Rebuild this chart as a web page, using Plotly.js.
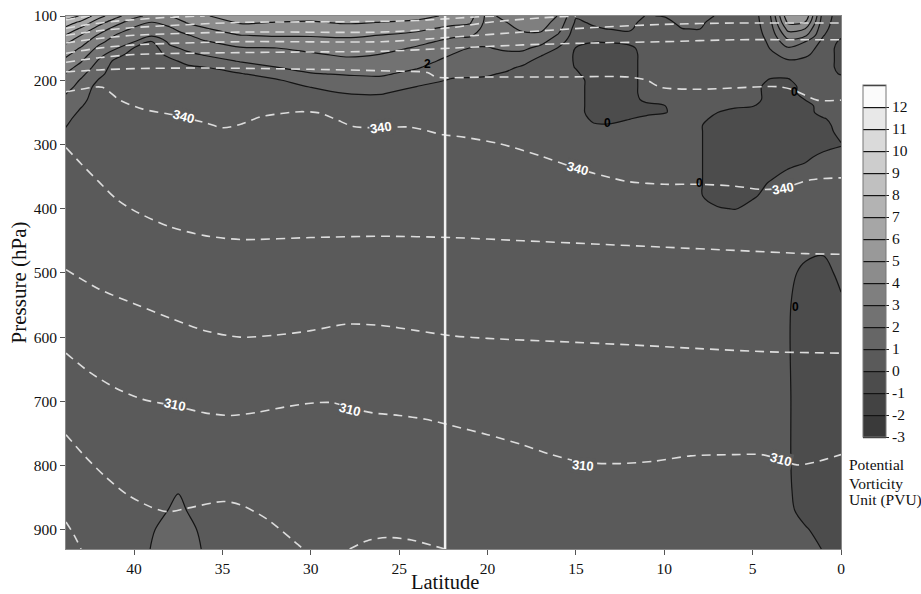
<!DOCTYPE html>
<html><head><meta charset="utf-8">
<script src="https://cdn.plot.ly/plotly-3.0.1.min.js"></script>
<style>html,body{margin:0;padding:0;background:#fff;}#chart{width:921px;height:594px;}</style>
</head><body><div id="chart"></div>
<script>
// ---------------- DATA ----------------
// Latitude columns (deg) and pressure rows (hPa) of the PV field
const latitudes = [0,1,2,3,4,5,6,7,8,9,10,11,12,13,14,15,16,17,18,19,20,21,22,24,26,28,30,32,34,36,37,37.5,38,39,40,41,42,43,44];
const pressures = [100,110,120,130,140,150,160,170,180,190,200,210,220,230,240,250,260,270,280,300,320,340,360,380,400,420,450,470,500,550,700,800,840,870,900,930];
// PV (PVU) profile for each latitude column, one value per pressure row
const pvByLatitude = [
/* 0 */ [.5,.5,.5,.2,-.2,-.3,-.3,-.3,-.3,-.1,.5,.5,.5,.5,.5,.5,.5,.5,.3,-.05,.3,.5,.5,.5,.5,.5,.5,.5,.3,-.2,-.5,-.5,-.5,-.5,-.5,-.5],
/* 1 */ [1.5,1.35,1.2,1.05,.75,.5,.5,.5,.5,.5,.5,.5,.5,.5,.5,.5,-.1,-.4,-.4,-.4,.3,.5,.5,.5,.5,.5,.5,.05,-.4,-.5,-.5,-.5,-.5,-.5,-.4,-.05],
/* 2 */ [5.7,4.98,3.98,3.17,1.98,1.58,1.17,.75,.5,.5,.5,.5,.5,.05,-.4,-.5,-.5,-.5,-.5,-.5,-.2,.3,.5,.5,.5,.5,.5,.2,-.3,-.5,-.5,-.5,-.5,-.4,.1,.4],
/* 3 */ [5.8,5.17,4.33,3.5,2.67,1.9,1.4,.9,.5,.25,-.1,-.5,-.5,-.5,-.5,-.5,-.5,-.5,-.5,-.5,-.5,.05,.5,.5,.5,.5,.5,.5,.3,.1,.1,.1,.15,.25,.5,.5],
/* 4 */ [1.95,1.75,1.55,1.35,1.15,1.04,.75,.5,.5,.3,-.1,-.5,-.5,-.5,-.5,-.5,-.5,-.5,-.5,-.5,-.5,-.5,.1,.5,.5,.5,.5,.5,.5,.5,.5,.5,.5,.5,.5,.5],
/* 5 */ [.5,.5,.5,.5,.5,.5,.5,.5,.5,.5,.5,.5,.5,.5,.05,-.4,-.5,-.5,-.5,-.5,-.5,-.5,-.5,-.2,.5,.5,.5,.5,.5,.5,.5,.5,.5,.5,.5,.5],
/* 6 */ [.5,.5,.5,.5,.5,.5,.5,.5,.5,.5,.5,.5,.5,.5,.2,-.4,-.5,-.5,-.5,-.5,-.5,-.5,-.5,-.5,-.05,.5,.5,.5,.5,.5,.5,.5,.5,.5,.5,.5],
/* 7 */ [.9,.6,.5,.5,.5,.5,.5,.5,.5,.5,.5,.5,.5,.5,.5,.02,-.5,-.5,-.5,-.5,-.5,-.5,-.5,-.5,.1,.5,.5,.5,.5,.5,.5,.5,.5,.5,.5,.5],
/* 8 */ [1.45,1.2,1.03,.5,.5,.5,.5,.5,.5,.5,.5,.5,.5,.5,.5,.5,.5,.1,.1,.1,.1,.1,.1,.1,.4,.5,.5,.5,.5,.5,.5,.5,.5,.5,.5,.5],
/* 9 */ [1.5,1.25,.98,.5,.5,.5,.5,.5,.5,.5,.5,.5,.5,.5,.5,.5,.5,.5,.5,.5,.5,.5,.5,.5,.5,.5,.5,.5,.5,.5,.5,.5,.5,.5,.5,.5],
/* 10 */ [1.05,.7,.5,.5,.5,.5,.5,.5,.5,.5,.5,.5,.5,.5,-.05,-.1,.5,.5,.5,.5,.5,.5,.5,.5,.5,.5,.5,.5,.5,.5,.5,.5,.5,.5,.5,.5],
/* 11 */ [.95,.7,.5,.5,.5,.5,.5,.5,.5,.5,.5,.5,.5,.3,-.3,-.3,.3,.5,.5,.5,.5,.5,.5,.5,.5,.5,.5,.5,.5,.5,.5,.5,.5,.5,.5,.5],
/* 12 */ [1.4,1.28,1.15,.75,.3,-.3,-.5,-.5,-.5,-.5,-.5,-.5,-.5,-.5,-.5,-.5,-.05,.4,.5,.5,.5,.5,.5,.5,.5,.5,.5,.5,.5,.5,.5,.5,.5,.5,.5,.5],
/* 13 */ [1.45,1.25,1.05,.5,.1,-.4,-.5,-.5,-.5,-.5,-.5,-.5,-.5,-.5,-.5,-.5,-.3,.1,.5,.5,.5,.5,.5,.5,.5,.5,.5,.5,.5,.5,.5,.5,.5,.5,.5,.5],
/* 14 */ [1.35,1.12,.9,.5,.05,-.4,-.5,-.5,-.5,-.5,-.5,-.5,-.5,-.5,-.5,-.5,-.2,.1,.5,.5,.5,.5,.5,.5,.5,.5,.5,.5,.5,.5,.5,.5,.5,.5,.5,.5],
/* 15 */ [1.1,.85,.6,.5,.35,-.05,-.1,-.1,-.05,.15,.5,.5,.5,.5,.5,.5,.5,.5,.5,.5,.5,.5,.5,.5,.5,.5,.5,.5,.5,.5,.5,.5,.5,.5,.5,.5],
/* 16 */ [2.95,2.65,2.35,1.9,1.43,.95,.5,.5,.5,.5,.5,.5,.5,.5,.5,.5,.5,.5,.5,.5,.5,.5,.5,.5,.5,.5,.5,.5,.5,.5,.5,.5,.5,.5,.5,.5],
/* 17 */ [3.7,3.45,3.2,2.8,2.29,1.75,1.13,.63,.5,.5,.5,.5,.5,.5,.5,.5,.5,.5,.5,.5,.5,.5,.5,.5,.5,.5,.5,.5,.5,.5,.5,.5,.5,.5,.5,.5],
/* 18 */ [3.6,3.4,3.15,2.8,2.5,2.17,1.77,1.32,.86,.5,.5,.5,.5,.5,.5,.5,.5,.5,.5,.5,.5,.5,.5,.5,.5,.5,.5,.5,.5,.5,.5,.5,.5,.5,.5,.5],
/* 19 */ [3.3,2.95,2.75,2.55,2.35,2.12,1.84,1.53,1.22,.91,.6,.5,.5,.5,.5,.5,.5,.5,.5,.5,.5,.5,.5,.5,.5,.5,.5,.5,.5,.5,.5,.5,.5,.5,.5,.5],
/* 20 */ [2.7,2.65,2.55,2.4,2.17,1.96,1.74,1.52,1.3,1.09,.87,.65,.5,.5,.5,.5,.5,.5,.5,.5,.5,.5,.5,.5,.5,.5,.5,.5,.5,.5,.5,.5,.5,.5,.5,.5],
/* 21 */ [4.45,4.1,3.62,3.14,2.59,1.98,1.78,1.57,1.35,1.13,.91,.7,.5,.5,.5,.5,.5,.5,.5,.5,.5,.5,.5,.5,.5,.5,.5,.5,.5,.5,.5,.5,.5,.5,.5,.5],
/* 22 */ [4.8,4.28,3.72,3.17,2.74,2.37,1.99,1.73,1.46,1.19,.92,.65,.5,.5,.5,.5,.5,.5,.5,.5,.5,.5,.5,.5,.5,.5,.5,.5,.5,.5,.5,.5,.5,.5,.5,.5],
/* 24 */ [5.33,4.78,4.22,3.73,3.27,2.89,2.62,2.35,2.08,1.74,1.37,.99,.63,.5,.5,.5,.5,.5,.5,.5,.5,.5,.5,.5,.5,.5,.5,.5,.5,.5,.5,.5,.5,.5,.5,.5],
/* 26 */ [5.5,4.98,4.5,3.98,3.67,3.33,2.98,2.71,2.41,2.12,1.79,1.43,1.07,.71,.5,.5,.5,.5,.5,.5,.5,.5,.5,.5,.5,.5,.5,.5,.5,.5,.5,.5,.5,.5,.5,.5],
/* 28 */ [5.55,5.1,4.62,4.14,3.77,3.45,3.13,2.79,2.43,2.07,1.72,1.38,1.03,.69,.5,.5,.5,.5,.5,.5,.5,.5,.5,.5,.5,.5,.5,.5,.5,.5,.5,.5,.5,.5,.5,.5],
/* 30 */ [5.33,4.92,4.5,4.08,3.67,3.25,2.88,2.58,2.27,1.95,1.5,1.05,.6,.5,.5,.5,.5,.5,.5,.5,.5,.5,.5,.5,.5,.5,.5,.5,.5,.5,.5,.5,.5,.5,.5,.5],
/* 32 */ [5.45,4.98,4.55,4.09,3.56,2.98,2.67,2.33,1.98,1.44,.89,.5,.5,.5,.5,.5,.5,.5,.5,.5,.5,.5,.5,.5,.5,.5,.5,.5,.5,.5,.5,.5,.5,.5,.5,.5],
/* 34 */ [5.6,5.11,4.56,3.98,3.44,2.92,2.5,2.08,1.53,.94,.5,.5,.5,.5,.5,.5,.5,.5,.5,.5,.5,.5,.5,.5,.5,.5,.5,.5,.5,.5,.5,.5,.5,.5,.5,.5],
/* 36 */ [4.9,4.44,3.9,3.4,2.92,2.5,2.08,1.56,.98,.5,.5,.5,.5,.5,.5,.5,.5,.5,.5,.5,.5,.5,.5,.5,.5,.5,.5,.5,.5,.5,.5,.5,.5,.5,.75,.9],
/* 37 */ [4.65,4.06,3.47,2.93,2.57,2.21,1.8,1.3,.8,.5,.5,.5,.5,.5,.5,.5,.5,.5,.5,.5,.5,.5,.5,.5,.5,.5,.5,.5,.5,.5,.5,.5,.6,.98,1.3,1.4],
/* 37.5 */ [4.3,3.7,3.15,2.72,2.38,1.99,1.53,1.02,.65,.5,.5,.5,.5,.5,.5,.5,.5,.5,.5,.5,.5,.5,.5,.5,.5,.5,.5,.5,.5,.5,.5,.6,.95,1.3,1.45,1.5],
/* 38 */ [3.95,3.33,2.84,2.52,2.19,1.79,1.26,.74,.5,.5,.5,.5,.5,.5,.5,.5,.5,.5,.5,.5,.5,.5,.5,.5,.5,.5,.5,.5,.5,.5,.5,.5,.6,1.05,1.3,1.35],
/* 39 */ [3.7,2.98,2.58,2.17,.97,.5,.5,.5,.5,.5,.5,.5,.5,.5,.5,.5,.5,.5,.5,.5,.5,.5,.5,.5,.5,.5,.5,.5,.5,.5,.5,.5,.5,.6,.93,1.05],
/* 40 */ [4.3,3.46,2.83,2.42,2.02,.95,.5,.5,.5,.5,.5,.5,.5,.5,.5,.5,.5,.5,.5,.5,.5,.5,.5,.5,.5,.5,.5,.5,.5,.5,.5,.5,.5,.5,.5,.5],
/* 41 */ [5.3,4.36,3.57,2.92,2.5,2.08,1.43,.71,.5,.5,.5,.5,.5,.5,.5,.5,.5,.5,.5,.5,.5,.5,.5,.5,.5,.5,.5,.5,.5,.5,.5,.5,.5,.5,.5,.5],
/* 42 */ [6.4,5.4,4.57,3.88,3.29,2.77,2.32,1.9,1.58,1.26,.94,.61,.5,.5,.5,.5,.5,.5,.5,.5,.5,.5,.5,.5,.5,.5,.5,.5,.5,.5,.5,.5,.5,.5,.5,.5],
/* 43 */ [7.9,6.73,5.83,4.98,4.44,3.92,3.5,3.08,2.67,2.25,1.91,1.7,1.49,1.28,1.06,.85,.64,.5,.5,.5,.5,.5,.5,.5,.5,.5,.5,.5,.5,.5,.5,.5,.5,.5,.5,.5],
/* 44 */ [8.6,7.73,6.85,6.08,5.31,4.74,4.3,3.88,3.48,3.08,2.75,2.44,2.13,1.89,1.7,1.52,1.33,1.15,.96,.59,.5,.5,.5,.5,.5,.5,.5,.5,.5,.5,.5,.5,.5,.5,.5,.5]
];

// Potential temperature isolines (K): latitude / pressure of each dashed line
const theta290Lat = [43.85,43.4,43.0];  const theta290P = [888,908,930];
const theta300aLat = [43.85,42.8,41.6,40.4,39.1,38.1,36.9,34.95,34.0,32.45,30.6,30.4];
const theta300aP   = [752,785,818,845,864,872,866,856,861,884,926,930];
const theta300bLat = [27.8,26.8,25.7,24.3,23.2,22.4];
const theta300bP   = [930,917,912,916,924,930];
const theta310Lat = [43.85,42.5,41,39.5,37.7,36,34.5,33,31.5,30,28.8,27.8,26.5,25,23.5,22,20,18,16.5,14.6,12.5,10.5,8.5,6,4.5,3.4,2.5,1.5,0];
const theta310P   = [625,655,680,697,707,718,722,717,709,703,702,710,718,722,728,738,752,768,782,795,797,793,785,783,783,791,799,795,783];
const theta320Lat = [43.85,42,40,38,36,34,32,30,28,26,24,22,20,16,12,8,4,0];
const theta320P   = [495,525,548,570,590,600,597,590,580,582,590,598,602,607,612,618,623,625];
const theta330Lat = [43.85,43,42,41,40,38,36,34,30,26,22,18,14,10,6,2,0];
const theta330P   = [305,330,358,385,403,428,442,448,445,443,445,450,455,460,465,470,471];
const theta340Lat = [43.85,43,41.8,40.8,39.5,37.8,37.2,36,34.95,33.9,32.85,31.7,30.6,29.5,28.5,27.6,26,24.4,22.5,21.5,19.3,17,15,13,12,10,8,6,4.5,3.3,1.7,0];
const theta340P   = [218,214,211,231,245,254,258,266,274,268,257,252,249,251,262,272,274,273,285,288,299,318,337,352,358,362,362,365,370,368,355,352];
const theta350Lat = [43.85,42,40,36,30,25,23.4,22.9,20,16,12,11,10.2,8,6,3.6,2.7,1.35,0];
const theta350P   = [187,184,182,181,183,186,188,195,195,195,195,200,211,214,212,210,215,231,231];
const theta360Lat = [43.85,42,40,34,30,26,22,18,14,10,6,2,0];
const theta360P   = [172,165,160,157,156,155,150,145,142,140,137,137,137];
const theta370Lat = [43.85,42,40,34,26,22,18,14,10,6,2,0];
const theta370P   = [158,150,145,140,140,133,125,118,113,111,111,111];
const theta380Lat = [43.85,42,40,34,26,22,20,17,15];
const theta380P   = [142,135,130,125,125,118,110,103,100];
const theta390Lat = [43.85,42,40,34,28,24,21,19.5];
const theta390P   = [130,123,118,110,109,107,102,100];
const theta400Lat = [43.85,42.5,41,38,36];
const theta400P   = [119,113,108,102,100];
const theta410Lat = [43.85,43,42.5];
const theta410P   = [106,102,100];

// Isoline labels
const thetaLabelText = ['340','340','340','340','310','310','310','310'];
const thetaLabelLat  = [37.2,26.0,14.9,3.3,37.7,27.8,14.6,3.4];
const thetaLabelP    = [256,274,337,368,705,713,800,791];
const pvLabelText = ['2','0','0','0','0'];
const pvLabelLat  = [23.4,13.2,8.0,2.65,2.6];
const pvLabelP    = [174,267,360,218,553];

// Colour bar levels and axis ticks
const pvTickVals = [-3,-2,-1,0,1,2,3,4,5,6,7,8,9,10,11,12];
const pvTickText = ['-3','-2','-1','0','1','2','3','4','5','6','7','8','9','10','11','12'];
const xTickVals = [40,35,30,25,20,15,10,5,0];
const yTickVals = [100,200,300,400,500,600,700,800,900];
const splitLatitude = [22.4];

// ---------------- STYLE ----------------
const bandColors = ['#3a3a3a','#434343','#4c4c4c','#5a5a5a','#666666','#727272','#7f7f7f','#8c8c8c',
                    '#999999','#a6a6a6','#b3b3b3','#c0c0c0','#cdcdcd','#dadada','#e8e8e8','#fbfbfb'];
const colorscale = [];
bandColors.forEach((c, i) => { colorscale.push([i / 16, c]); colorscale.push([(i + 1) / 16, c]); });
const thetaLabelAngles = [15, -8, 15, -10, 12, 14, 5, 15];
const bodyColor = bandColors[3];
const serif = 'Liberation Serif, Times New Roman, serif';

const traces = [{
  type: 'contour', x: latitudes, y: pressures, z: pvByLatitude, transpose: true,
  zmin: -3, zmax: 13, autocontour: false,
  contours: {start: -3, end: 13, size: 1, coloring: 'fill', showlines: true},
  line: {color: '#141414', width: 1.2, smoothing: 1},
  colorscale: colorscale, hoverinfo: 'skip',
  colorbar: {
    x: 1.0284, xanchor: 'left', xpad: 0, y: 0.5403, yanchor: 'middle', ypad: 0,
    len: 352, lenmode: 'pixels', thickness: 23, thicknessmode: 'pixels',
    outlinewidth: 1, outlinecolor: '#777',
    tickmode: 'array', tickvals: pvTickVals, ticktext: pvTickText,
    ticks: 'outside', ticklen: 3, tickcolor: '#222',
    tickfont: {family: serif, size: 15.5, color: '#111'}
  }
}];

const thetaLines = [[theta290Lat,theta290P],[theta300aLat,theta300aP],[theta300bLat,theta300bP],
  [theta310Lat,theta310P],[theta320Lat,theta320P],[theta330Lat,theta330P],[theta340Lat,theta340P],
  [theta350Lat,theta350P],[theta360Lat,theta360P],[theta370Lat,theta370P],[theta380Lat,theta380P],
  [theta390Lat,theta390P],[theta400Lat,theta400P],[theta410Lat,theta410P]];
thetaLines.forEach(([lx, ly]) => traces.push({
  type: 'scatter', mode: 'lines', x: lx, y: ly, hoverinfo: 'skip', showlegend: false,
  line: {color: '#dcdcdc', width: 1.6, dash: '9px,6px', shape: 'spline', smoothing: 0.8}
}));

const annotations = [];
thetaLabelText.forEach((t, i) => annotations.push({
  x: thetaLabelLat[i], y: thetaLabelP[i], xref: 'x', yref: 'y', text: t, showarrow: false,
  textangle: thetaLabelAngles[i], bgcolor: bodyColor, borderpad: 0,
  font: {family: 'Liberation Sans, Arial, sans-serif', size: 13, color: '#ffffff', weight: 'bold'}
}));
pvLabelText.forEach((t, i) => annotations.push({
  x: pvLabelLat[i], y: pvLabelP[i], xref: 'x', yref: 'y', text: t, showarrow: false,
  font: {family: 'Liberation Sans, Arial, sans-serif', size: 12, color: '#000000', weight: 'bold'}
}));
['Potential', 'Vorticity', 'Unit (PVU)'].forEach((t, i) => annotations.push({
  x: 1.0077, y: [0.1576, 0.1229, 0.0919][i], xref: 'paper', yref: 'paper', xanchor: 'left', yanchor: 'middle',
  text: t, showarrow: false, font: {family: serif, size: 15.5, color: '#111'}
}));
// x-axis title, placed where the reference draws it
annotations.push({
  x: 0.4884, y: -0.061, xref: 'paper', yref: 'paper', xanchor: 'center', yanchor: 'middle',
  text: 'Latitude', showarrow: false, font: {family: serif, size: 20.5, color: '#111'}
});

const axisCommon = {
  ticks: 'outside', ticklen: 5, tickcolor: '#555', tickwidth: 1,
  showgrid: false, zeroline: false, showline: true, linecolor: '#888', linewidth: 1, mirror: true,
  tickfont: {family: serif, size: 15.5, color: '#111'}, automargin: false
};

const layout = {
  width: 921, height: 594,
  margin: {l: 66, r: 80, t: 16, b: 45},
  paper_bgcolor: '#ffffff', plot_bgcolor: bodyColor,
  font: {family: serif, color: '#111'},
  showlegend: false,
  xaxis: Object.assign({}, axisCommon, {
    range: [43.85, 0], tickmode: 'array', tickvals: xTickVals
  }),
  yaxis: Object.assign({}, axisCommon, {
    range: [930, 100], tickmode: 'array', tickvals: yTickVals,
    title: {text: 'Pressure (hPa)', font: {family: serif, size: 21, color: '#111'}, standoff: 1}
  }),
  shapes: [{type: 'line', xref: 'x', yref: 'paper', x0: splitLatitude[0], x1: splitLatitude[0], y0: 0, y1: 1,
            line: {color: '#f2f2f2', width: 2.5}, layer: 'above'}],
  annotations: annotations
};

Plotly.newPlot('chart', traces, layout, {displayModeBar: false, staticPlot: true});
</script></body></html>
